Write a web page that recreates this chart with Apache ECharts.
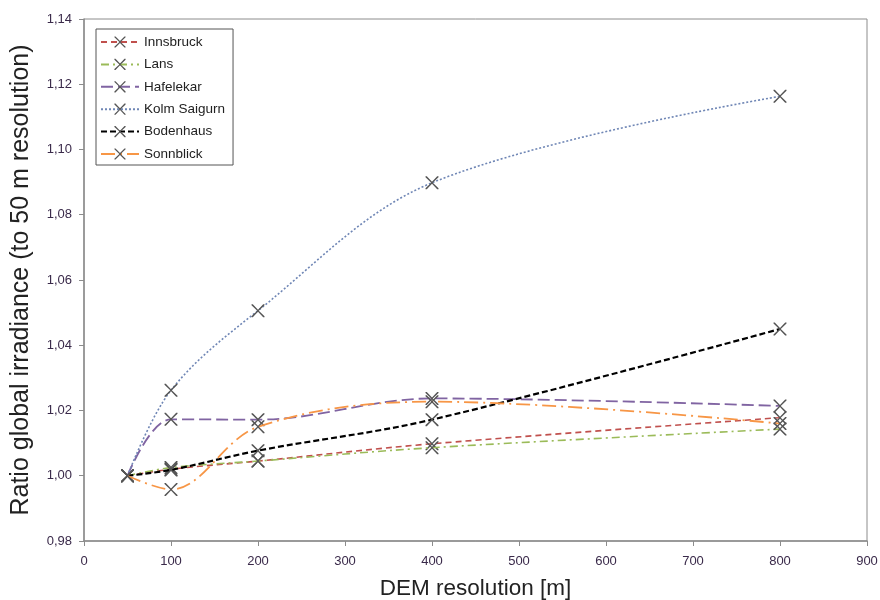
<!DOCTYPE html>
<html><head><meta charset="utf-8">
<script src="https://cdn.jsdelivr.net/npm/echarts@6/dist/echarts.min.js"></script>
<style>html,body{margin:0;padding:0;background:#fff}#c{width:880px;height:600px}</style>
</head><body><div id="c"></div>
<script>
var resolutions = [50, 100, 200, 400, 800];
var seriesNames = ['Innsbruck', 'Lans', 'Hafelekar', 'Kolm Saigurn', 'Bodenhaus', 'Sonnblick'];
var innsbruck   = [1.000, 1.0020, 1.0045, 1.0098, 1.0178];
var lans        = [1.000, 1.0025, 1.0045, 1.0086, 1.0143];
var hafelekar   = [1.000, 1.0173, 1.0172, 1.0237, 1.0214];
var kolmSaigurn = [1.000, 1.0262, 1.0506, 1.0898, 1.1163];
var bodenhaus   = [1.000, 1.0018, 1.0077, 1.0172, 1.0450];
var sonnblick   = [1.000, 0.9958, 1.0150, 1.0227, 1.0160];
var xTicks = [0, 100, 200, 300, 400, 500, 600, 700, 800, 900];
var yTicks = [0.98, 1.00, 1.02, 1.04, 1.06, 1.08, 1.10, 1.12, 1.14];

var values = [innsbruck, lans, hafelekar, kolmSaigurn, bodenhaus, sonnblick];
var styles = [
  {color:'#c0504d', type:[6,4], width:1.6},
  {color:'#9bbb59', type:[8,4,2,4], width:1.6},
  {color:'#8064a2', type:[12,5], width:1.8},
  {color:'#6f86b5', type:[2,2], width:1.6},
  {color:'#000000', type:[6,3], width:2.2},
  {color:'#f79646', type:[14,5,2,5], width:1.8}
];
var X = 'path://M0,0 L1,0 L5,4.2 L9,0 L10,0 L10,0.8 L5.6,5 L10,9.2 L10,10 L9,10 L5,5.8 L1,10 L0,10 L0,9.2 L4.4,5 L0,0.8 Z';
var font = 'Liberation Sans, Arial, sans-serif';

var series = seriesNames.map(function(n, i){
  return {
    name: n, type: 'line', smooth: 0.35,
    data: resolutions.map(function(r, j){ return [r, values[i][j]]; }),
    symbol: X, symbolSize: 13,
    itemStyle: {color: '#555555'},
    lineStyle: {color: styles[i].color, type: styles[i].type, width: styles[i].width},
    z: 2 + i
  };
});

var chart = echarts.init(document.getElementById('c'), null, {renderer:'canvas'});
chart.setOption({
  animation: false,
  backgroundColor: '#fff',
  grid: {left: 84, right: 13, top: 19, bottom: 59, show: true, borderColor: '#8c8c8c', borderWidth: 1,
         containLabel: false, outerBoundsMode: 'none'},
  legend: {
    orient: 'vertical', left: 96, top: 29, itemWidth: 38, itemHeight: 14, itemGap: 8.4,
    padding: [6, 8, 4, 4], borderColor: '#555', borderWidth: 1, backgroundColor: '#fff',
    textStyle: {fontFamily: font, fontSize: 13.5, color: '#222'},
    data: seriesNames
  },
  xAxis: {
    type: 'value', min: xTicks[0], max: xTicks[xTicks.length-1], interval: 100,
    name: 'DEM resolution [m]', nameLocation: 'middle', nameGap: 36,
    nameTextStyle: {fontFamily: font, fontSize: 22.5, color: '#222'},
    axisLine: {show: true, lineStyle: {color: '#8c8c8c', width: 1.5}},
    axisTick: {show: true, length: 5, lineStyle: {color: '#8c8c8c'}},
    axisLabel: {fontFamily: font, fontSize: 13, color: '#3a2a4a', margin: 14},
    splitLine: {show: false}
  },
  yAxis: {
    type: 'value', min: yTicks[0], max: yTicks[yTicks.length-1], interval: 0.02,
    name: 'Ratio global irradiance (to 50 m resolution)', nameLocation: 'middle', nameGap: 50,
    nameTextStyle: {fontFamily: font, fontSize: 25, color: '#222'},
    axisLine: {show: true, lineStyle: {color: '#8c8c8c', width: 1.5}},
    axisTick: {show: true, length: 5, lineStyle: {color: '#8c8c8c'}},
    axisLabel: {fontFamily: font, fontSize: 13, color: '#3a2a4a', margin: 12,
      formatter: function(v){ return v.toFixed(2).replace('.', ','); }},
    splitLine: {show: false}
  },
  series: series
});
</script></body></html>
